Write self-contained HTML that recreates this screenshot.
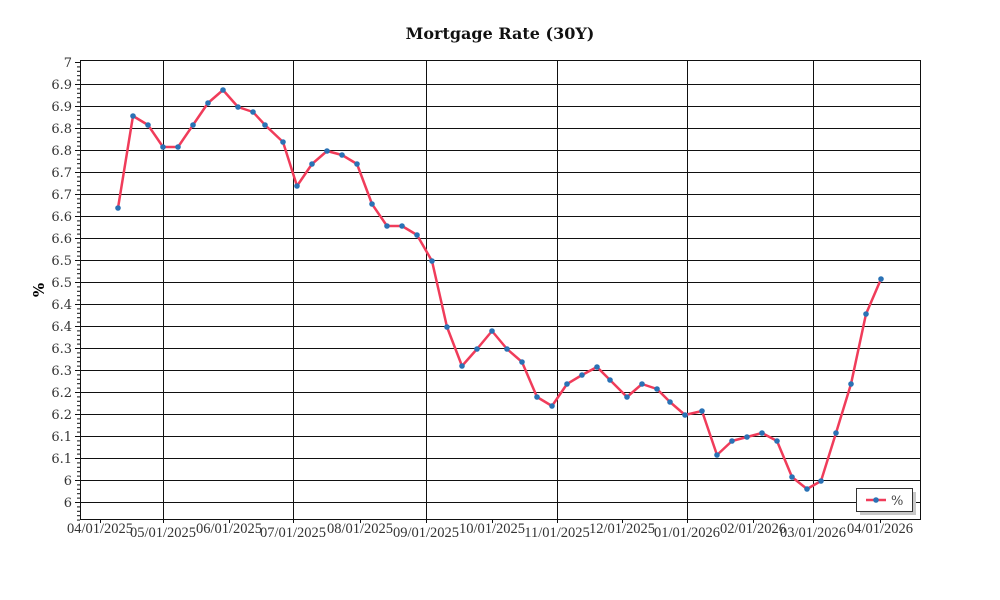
<!DOCTYPE html>
<html><head><meta charset="utf-8"><style>
body{margin:0;background:#fff;}
svg{display:block;font-family:"DejaVu Serif","Liberation Serif",serif;}
</style></head><body>
<svg width="1000" height="600" viewBox="0 0 1000 600">
<text x="500" y="39" text-anchor="middle" font-size="16" font-weight="bold" fill="#111">Mortgage Rate (30Y)</text>
<text x="44" y="290" text-anchor="middle" font-size="15" font-weight="bold" transform="rotate(-90 44 290)">%</text>
<g id="grid" stroke="#111" stroke-width="1"></g>
<rect x="80.5" y="60.5" width="840" height="459" fill="none" stroke="#111"/>
<g id="ylab" font-size="13" fill="#333" text-anchor="end"></g>
<g id="xlab" font-size="14.5" fill="#333" text-anchor="middle" style="font-family:'Liberation Serif',serif"></g>
<polyline id="line" fill="none" stroke="#f03c5a" stroke-width="2.5" stroke-linejoin="round"/>
<g id="pts" fill="#2a72b5"></g>
<rect x="860" y="492" width="56" height="23" fill="#c8c8c8"/>
<rect x="856.5" y="488.5" width="56" height="23" fill="#fff" stroke="#333"/>
<line x1="866" y1="500" x2="886" y2="500" stroke="#f03c5a" stroke-width="2.5"/>
<circle cx="876" cy="500" r="2.8" fill="#2a72b5"/>
<text x="891" y="505" font-size="13" fill="#444">%</text>
</svg>
<script>
const ns="http://www.w3.org/2000/svg";
function el(p,t,a,txt){const e=document.createElementNS(ns,t);for(const k in a)e.setAttribute(k,a[k]);if(txt!==undefined)e.textContent=txt;document.getElementById(p).appendChild(e);}
const ylabs=["7","6.9","6.9","6.8","6.8","6.7","6.7","6.6","6.6","6.5","6.5","6.4","6.4","6.3","6.3","6.2","6.2","6.1","6.1","6","6"];
for(let i=0;i<21;i++){const y=62+i*22;
 if(i>0)el("grid","line",{x1:80,x2:920,y1:y+.5,y2:y+.5});
 el("grid","line",{x1:75,x2:80,y1:y+.5,y2:y+.5});
 el("ylab","text",{x:72,y:y+5},ylabs[i]);}
for(let y=62;y<520;y+=4.4){el("grid","line",{x1:77,x2:80,y1:y+.5,y2:y+.5});}
[163,293,426,557,687,813].forEach(x=>el("grid","line",{x1:x+.5,x2:x+.5,y1:60,y2:520}));
const xl=[[100,"04/01/2025"],[163,"05/01/2025"],[229,"06/01/2025"],[293,"07/01/2025"],[360,"08/01/2025"],[426,"09/01/2025"],[492,"10/01/2025"],[557,"11/01/2025"],[622,"12/01/2025"],[687,"01/01/2026"],[753,"02/01/2026"],[813,"03/01/2026"],[880,"04/01/2026"]];
xl.forEach(([x,t],i)=>{el("grid","line",{x1:x+.5,x2:x+.5,y1:520,y2:523});el("xlab","text",{x:x,y:i%2?537:533},t);});
const p=[[118,208],[133,116],[148,125],[163,147],[178,147],[193,125],[208,103],[223,90],[238,107],[253,112],[265,125],[283,142],[297,186],[312,164],[327,151],[342,155],[357,164],[372,204],[387,226],[402,226],[417,235],[432,261],[447,327],[462,366],[477,349],[492,331],[507,349],[522,362],[537,397],[552,406],[567,384],[582,375],[597,367],[610,380],[627,397],[642,384],[657,389],[670,402],[685,415],[702,411],[717,455],[732,441],[747,437],[762,433],[777,441],[792,477],[807,489],[821,481],[836,433],[851,384],[866,314],[881,279]];
document.getElementById("line").setAttribute("points",p.map(a=>a.join(",")).join(" "));
p.forEach(([x,y])=>el("pts","circle",{cx:x,cy:y,r:2.8}));
</script>
</body></html>
